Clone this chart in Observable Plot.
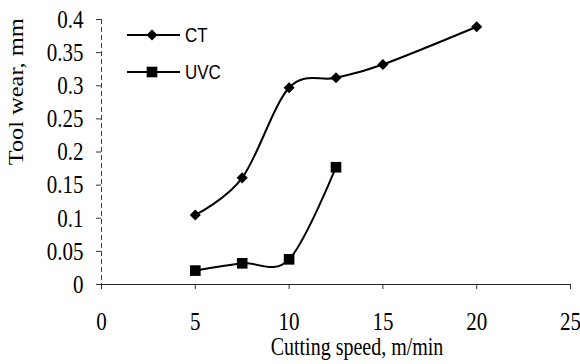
<!DOCTYPE html>
<html><head><meta charset="utf-8">
<script src="https://cdn.jsdelivr.net/npm/d3@7"></script>
<script src="https://cdn.jsdelivr.net/npm/@observablehq/plot@0.6"></script>
<style>
body{margin:0;background:#fff}
#c{position:relative;width:580px;height:364px}
#c svg text{font-family:"Liberation Serif","Times New Roman",serif}
#c svg g.legend text{font-family:"Liberation Sans",Arial,sans-serif}
</style>
</head><body><div id="c"></div>
<script>
const ctSpeeds = [5, 7.5, 10, 12.5, 15, 20];
const ctWear = [0.105, 0.161, 0.297, 0.312, 0.332, 0.389];
const uvcSpeeds = [5, 7.5, 10, 12.5];
const uvcWear = [0.021, 0.032, 0.038, 0.177];
const seriesNames = ["CT", "UVC"];
const xTicks = [0, 5, 10, 15, 20, 25];
const yTicks = [0, 0.05, 0.1, 0.15, 0.2, 0.25, 0.3, 0.35, 0.4];
const xTitle = "Cutting speed, m/min";
const yTitle = "Tool wear, mm";

const ct = ctSpeeds.map((x, i) => ({x, y: ctWear[i]}));
const uvc = uvcSpeeds.map((x, i) => ({x, y: uvcWear[i]}));

const serif = "Liberation Serif, Times New Roman, serif";
const sans = "Liberation Sans, Arial, sans-serif";

const chart = Plot.plot({
  width: 580, height: 364,
  marginLeft: 101, marginRight: 10, marginTop: 19, marginBottom: 80,
  style: {fontFamily: serif, fontSize: "20px", color: "#000", background: "#fff"},
  x: {domain: [0, 25]},
  y: {domain: [0, 0.4]},
  marks: [
    Plot.axisY({ticks: yTicks, tickSize: 5, tickPadding: 13, tickFormat: d => String(d), label: null, stroke: "#333", fontFamily: serif, fontSize: 21}),
    Plot.axisX({ticks: xTicks, tickSize: 5, tickPadding: 24, tickFormat: d => String(d), label: null, stroke: "#333", fontFamily: serif, fontSize: 21}),
    Plot.ruleX([0], {stroke: "#444", strokeWidth: 1, strokeDasharray: "5,3"}),
    Plot.ruleY([0], {stroke: "#222", strokeWidth: 1}),
    Plot.line(ct, {x: "x", y: "y", curve: "cardinal", stroke: "#000", strokeWidth: 2}),
    Plot.dot(ct, {x: "x", y: "y", symbol: "diamond2", r: 5, fill: "#000", stroke: "none"}),
    Plot.line(uvc, {x: "x", y: "y", curve: "cardinal", stroke: "#000", strokeWidth: 2}),
    Plot.dot(uvc, {x: "x", y: "y", symbol: "square", r: 6, fill: "#000", stroke: "none"}),
    Plot.text([xTitle], {text: d => d, frameAnchor: "bottom", dy: 63, dx: 21, fontSize: 20, fontFamily: serif, lineAnchor: "middle"}),
    Plot.text([yTitle], {text: d => d, frameAnchor: "left", dx: -85, rotate: -90, fontSize: 20, fontFamily: serif, lineAnchor: "middle"})
  ]
});
document.getElementById("c").appendChild(chart);

// the reference's lettering is taller than it is wide: stretch each text vertically about its centre
function stretch(el, sy) {
  const bb = el.getBBox();
  const cy = bb.y + bb.height / 2;
  const cx = bb.x + bb.width / 2;
  const t = el.getAttribute("transform") || "";
  const ctm = el.getCTM();
  const rotated = ctm && Math.abs(ctm.b) > 0.5;
  if (rotated) el.setAttribute("transform", `${t} translate(${cx},0) scale(${sy},1) translate(${-cx},0)`);
  else el.setAttribute("transform", `${t} translate(0,${cy}) scale(1,${sy}) translate(0,${-cy})`);
}
const svg = d3.select(chart);
svg.selectAll("text").attr("font-family", serif).each(function() { stretch(this, 1.22); });

// legend
const lg = svg.append("g").attr("class", "legend").attr("font-family", sans).attr("font-size", 17).attr("text-anchor", "start");
const legendSymbols = [d3.symbolDiamond2, d3.symbolSquare];
const legendSizes = [Math.PI * 25, Math.PI * 36];
seriesNames.forEach((name, i) => {
  const y = 35 + i * 37;
  lg.append("line").attr("x1", 127).attr("x2", 180).attr("y1", y).attr("y2", y)
    .attr("stroke", "#000").attr("stroke-width", 1.8);
  lg.append("path").attr("d", d3.symbol(legendSymbols[i], legendSizes[i])())
    .attr("transform", `translate(152,${y})`).attr("fill", "#000");
  const tx = lg.append("text").attr("x", 185).attr("y", y).attr("dy", "0.35em").text(name);
  stretch(tx.node(), 1.15);
});
</script>
</body></html>
